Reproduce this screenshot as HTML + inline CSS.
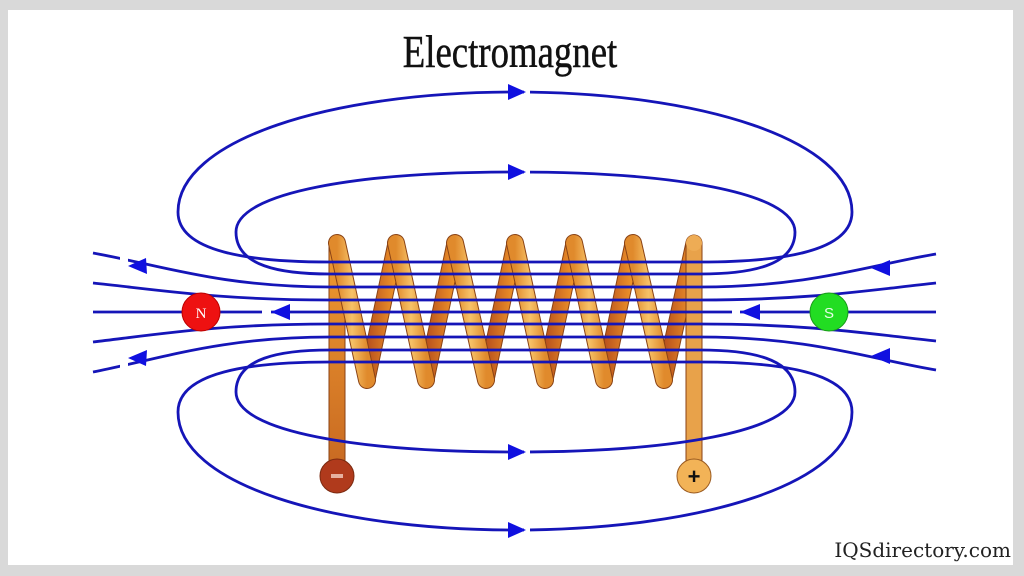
<!DOCTYPE html>
<html><head><style>
html,body{margin:0;padding:0;background:#d9d9d9;}
.f{position:absolute;left:8px;top:10px;width:1005px;height:555px;background:#fff;}
</style></head><body>
<div style="position:relative;width:1024px;height:576px;overflow:hidden">
<div class="f"></div>
<svg width="1024" height="576" style="position:absolute;left:0;top:0">
<defs>
<linearGradient id="fr" x1="0" x2="1"><stop offset="0" stop-color="#e08a2c"/><stop offset="0.5" stop-color="#f7c267"/><stop offset="1" stop-color="#e08a2c"/></linearGradient>
<linearGradient id="bk" x1="0" x2="1"><stop offset="0" stop-color="#b8501c"/><stop offset="1" stop-color="#f0962a"/></linearGradient>
<linearGradient id="ld" x1="0" y1="0" x2="0" y2="1"><stop offset="0" stop-color="#f09a30"/><stop offset="1" stop-color="#c86a22"/></linearGradient>
</defs>
<text x="510" y="67" text-anchor="middle" font-family="Liberation Serif, serif" font-size="46" fill="#111" stroke="#111" stroke-width="0.5" transform="translate(510 0) scale(0.8 1) translate(-510 0)">Electromagnet</text>
<text x="1011" y="557" text-anchor="end" font-family="DejaVu Serif, serif" font-size="20" fill="#222">IQSdirectory.com</text>
<g stroke-linecap="round">
<g stroke-width="17" stroke="#8a4214">
<line x1="367" y1="380" x2="396" y2="243"/><line x1="426" y1="380" x2="455" y2="243"/><line x1="486" y1="380" x2="515" y2="243"/><line x1="545" y1="380" x2="574" y2="243"/><line x1="604" y1="380" x2="633" y2="243"/><line x1="664" y1="380" x2="694" y2="243"/>
</g>
<g stroke-width="15" stroke="url(#bk)">
<line x1="367" y1="380" x2="396" y2="243"/><line x1="426" y1="380" x2="455" y2="243"/><line x1="486" y1="380" x2="515" y2="243"/><line x1="545" y1="380" x2="574" y2="243"/><line x1="604" y1="380" x2="633" y2="243"/><line x1="664" y1="380" x2="694" y2="243"/>
</g>
</g>
<rect x="329" y="243" width="16" height="225" fill="url(#ld)" stroke="#8a4214" stroke-width="1"/>
<rect x="686" y="243" width="16" height="225" fill="#e8a24a" stroke="#8a4214" stroke-width="1"/>
<circle cx="337" cy="243" r="8" fill="#e8952e"/>
<circle cx="694" cy="243" r="8" fill="#eeac55"/>
<circle cx="337" cy="476" r="17" fill="#b03a1c" stroke="#7a2a10"/>
<rect x="331" y="474" width="12" height="4" fill="#e6b0a0"/>
<circle cx="694" cy="476" r="17" fill="#f2b357" stroke="#9a5a20"/>
<text x="694" y="484" text-anchor="middle" font-family="Liberation Sans, sans-serif" font-size="22" font-weight="bold" fill="#111">+</text>
<g stroke-linecap="round">
<g stroke-width="18" stroke="#8a4214">
<line x1="337" y1="243" x2="367" y2="380"/><line x1="396" y1="243" x2="426" y2="380"/><line x1="455" y1="243" x2="486" y2="380"/><line x1="515" y1="243" x2="545" y2="380"/><line x1="574" y1="243" x2="604" y2="380"/><line x1="633" y1="243" x2="664" y2="380"/>
</g>
<g stroke-width="16" stroke="url(#fr)">
<line x1="337" y1="243" x2="367" y2="380"/><line x1="396" y1="243" x2="426" y2="380"/><line x1="455" y1="243" x2="486" y2="380"/><line x1="515" y1="243" x2="545" y2="380"/><line x1="574" y1="243" x2="604" y2="380"/><line x1="633" y1="243" x2="664" y2="380"/>
</g>
</g>
<g fill="none" stroke="#1515b8" stroke-width="2.8">
<path d="M330,262 C250,262 178,252 178,212 C178,140 330,92 515,92 C700,92 852,140 852,212 C852,252 780,262 700,262"/>
<path d="M330,274 C280,274 236,266 236,232 C236,192 360,172 515,172 C670,172 795,192 795,232 C795,266 750,274 700,274"/>
<path d="M330,362 C250,362 178,372 178,412 C178,484 330,530 515,530 C700,530 852,484 852,412 C852,372 780,362 700,362"/>
<path d="M330,350 C280,350 236,358 236,392 C236,432 360,452 515,452 C670,452 795,432 795,392 C795,358 750,350 700,350"/>
<path d="M330,262 H700 M330,274 H700 M330,287 H700 M330,300 H700 M330,312 H700 M330,324 H700 M330,337 H700 M330,350 H700 M330,362 H700"/>
<path d="M330,287 C220,287 160,265 93,253"/>
<path d="M330,300 C220,300 160,290 93,283"/>
<path d="M330,312 H93"/>
<path d="M330,324 C220,324 160,334 93,342"/>
<path d="M330,337 C220,337 160,359 93,372"/>
<path d="M700,287 C810,287 870,265 936,254"/>
<path d="M700,300 C810,300 870,290 936,283"/>
<path d="M700,312 H936"/>
<path d="M700,324 C810,324 870,334 936,341"/>
<path d="M700,337 C810,337 870,359 936,370"/>
</g>
<g fill="#fff">
<rect x="524" y="86" width="6" height="12"/><rect x="524" y="166" width="6" height="12"/>
<rect x="524" y="446" width="6" height="12"/><rect x="524" y="524" width="6" height="12"/>
<rect x="120" y="256" width="8" height="14"/><rect x="120" y="354" width="8" height="14"/>
<rect x="262" y="305" width="9" height="14"/><rect x="732" y="305" width="8" height="14"/>
</g>
<g fill="#1010e0">
<polygon points="526,92 508,84 508,100"/>
<polygon points="526,172 508,164 508,180"/>
<polygon points="526,452 508,444 508,460"/>
<polygon points="526,530 508,522 508,538"/>
<polygon points="128,266 146,258 147,274"/>
<polygon points="128,358 147,350 146,366"/>
<polygon points="271,312 290,304 290,320"/>
<polygon points="740,312 760,304 760,320"/>
<polygon points="871,268 890,260 890,276"/>
<polygon points="871,356 890,348 890,364"/>
</g>
<circle cx="201" cy="312" r="19" fill="#ee1111" stroke="#b00"/>
<text x="201" y="318" text-anchor="middle" font-family="Liberation Serif, serif" font-size="15" fill="#fff">N</text>
<circle cx="829" cy="312" r="19" fill="#22dd22" stroke="#1a9a1a"/>
<text x="829" y="318" text-anchor="middle" font-family="Liberation Sans, sans-serif" font-size="15" fill="#e8ffe8">S</text>
</svg>
</div>
</body></html>
